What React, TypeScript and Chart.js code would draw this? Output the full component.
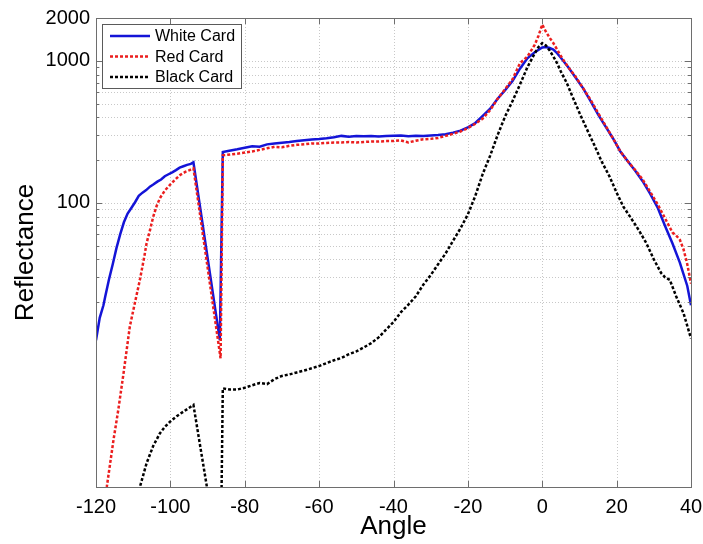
import React, { useEffect, useRef } from 'react';
import { Chart, registerables } from 'chart.js';

Chart.register(...registerables);

const FONT = '"Liberation Sans", Arial, Helvetica, sans-serif';

const xTicks = [-120, -100, -80, -60, -40, -20, 0, 20, 40];
const yLabelTicks = [100, 1000, 2000];
const yGridValues = [20, 30, 40, 50, 60, 70, 80, 90, 100, 200, 300, 400, 500, 600, 700, 800, 900, 1000, 2000];
const seriesNames = ['White Card', 'Red Card', 'Black Card'];

const whiteAngles = [-120, -119, -118, -117.5, -116.5, -115.5, -114.5, -113.5, -112.5, -111.5,
  -110.5, -109.5, -108.5, -107.5, -106.5, -105.5, -104.5, -103.5, -102.5, -101.5,
  -100.5, -99.5, -98.5, -97.5, -96.5, -95.5, -94.5, -93.8, -86.7, -85.9,
  -84.5, -82, -80, -78, -76, -74, -72, -70, -68, -66,
  -64, -62, -60, -58, -56, -54, -52, -50, -48, -46,
  -44, -42, -40, -38, -36, -34, -32, -30, -28, -26,
  -24, -22, -20, -18, -16, -14, -12, -10, -8, -6,
  -4, -2, 0, 1, 2, 3, 4, 5, 7, 9,
  11, 13, 15, 17, 19, 21, 23, 25, 27, 29,
  31, 33, 35, 37, 39, 40];
const whiteValues = [10.8, 15.5, 19, 22, 29, 37, 48, 60, 73, 84,
  92, 101, 112, 118, 123, 130, 135, 141, 146, 154,
  159, 164, 170, 177, 181, 185, 188, 193, 10.8, 228,
  232, 238, 244, 250, 248, 258, 262, 265, 268, 272,
  276, 279, 281, 285, 290, 296, 292, 295, 294, 296,
  293, 296, 297, 298, 294, 297, 296, 298, 300, 304,
  312, 322, 340, 365, 410, 460, 540, 620, 720, 880,
  1040, 1150, 1240, 1250, 1230, 1200, 1130, 1050, 900, 760,
  640, 520, 420, 345, 285, 230, 196, 168, 142, 116,
  93, 69, 52, 38, 26, 19];

const redAngles = [-120, -117.1, -115.3, -114, -112.6, -110.9, -109.5, -108.2, -107, -106.4,
  -105.5, -104.6, -103.7, -102.8, -101.5, -100.1, -98.7, -97.4, -96, -94.8,
  -93.8, -86.5, -85.9, -84.5, -82, -80, -78, -76, -74, -72,
  -70, -68, -66, -64, -62, -60, -58, -56, -54, -52,
  -50, -48, -46, -44, -42, -40, -38, -36, -34, -32,
  -30, -28, -26, -24, -22, -20, -18, -16, -14, -12,
  -10, -8, -6, -4, -2, -1, 0, 1, 2, 3, 4, 5,
  7, 9, 11, 13, 15, 17, 19, 21, 23, 25,
  27, 29, 31, 33, 35, 36, 37, 38, 39, 40];
const redValues = [0.35, 1.0, 2.14, 3.5, 6.3, 13.5, 20, 28.7, 42, 52,
  64, 80, 95, 108, 122, 134, 146, 157, 165, 170,
  175, 8.05, 216, 218, 222, 226, 230, 236, 242, 248,
  246, 252, 256, 258, 262, 262, 264, 266, 266, 268,
  266, 268, 270, 270, 272, 272, 275, 266, 274, 280,
  282, 286, 296, 306, 318, 336, 360, 392, 450, 540,
  630, 740, 960, 1070, 1300, 1500, 1800, 1600, 1450, 1330, 1200, 1080,
  900, 770, 640, 530, 430, 350, 285, 230, 196, 170,
  146, 120, 98, 78, 62, 59, 55, 47, 37, 27];

const blackAngles = [-120, -108.2, -106.4, -104.6, -102.8, -101.5, -100.1, -98.3, -96.5, -95,
  -93.8, -86.5, -85.9, -84, -82, -80, -78, -76, -74, -72,
  -70, -68, -66, -64, -62, -60, -58, -56, -54, -52,
  -50, -48, -46, -44, -42, -40, -38, -36, -34, -32,
  -30, -28, -26, -24, -22, -20, -18, -16, -14, -12,
  -10, -8, -6, -4, -2, -1, 0, 1, 2, 3,
  4, 5, 6.6, 8, 10, 12, 14, 16, 18, 20,
  21.8, 23.6, 26, 28, 30, 32, 33, 34.3, 36, 38,
  40];
const blackValues = [0.1, 1.0, 1.47, 1.95, 2.39, 2.65, 2.88, 3.15, 3.39, 3.6,
  3.78, 0.26, 4.95, 4.85, 4.85, 5.0, 5.2, 5.4, 5.3, 5.75,
  6.05, 6.2, 6.4, 6.6, 6.85, 7.1, 7.45, 7.8, 8.1, 8.6,
  9.0, 9.6, 10.3, 11.3, 12.8, 14.5, 17, 19.2, 22, 26.5,
  31, 37, 44, 54, 66, 83, 112, 160, 215, 300,
  405, 520, 680, 900, 1130, 1250, 1330, 1280, 1180, 1070,
  960, 840, 697, 570, 430, 330, 255, 195, 155, 118,
  94, 80, 64, 52, 40, 32, 30, 28.7, 22, 16.7,
  11.1];

const BLUE = 'rgb(20,20,215)';
const RED = 'rgb(235,30,30)';
const BLACK = 'rgb(0,0,0)';
const colors = [BLUE, RED, BLACK];
const dashes: number[][] = [[], [3, 2], [3, 2]];

const toPoints = (xs: number[], ys: number[]) => xs.map((a, i) => ({ x: a, y: ys[i] }));

const matlabPlugin = {
  id: 'matlabStyle',
  beforeDatasetsDraw(chart: any) {
    const { ctx, chartArea, scales } = chart;
    const { left, right, top, bottom } = chartArea;
    const x = scales.x, y = scales.y;
    ctx.save();
    ctx.strokeStyle = 'rgb(200,200,200)';
    ctx.lineWidth = 1;
    ctx.setLineDash([1, 2]);
    for (const v of xTicks) {
      const px = Math.round(x.getPixelForValue(v)) + 0.5;
      if (px <= left + 1 || px >= right - 1) continue;
      ctx.beginPath();
      ctx.moveTo(px, top);
      ctx.lineTo(px, bottom);
      ctx.stroke();
    }
    for (const v of yGridValues) {
      const py = Math.round(y.getPixelForValue(v)) + 0.5;
      if (py <= top + 1 || py >= bottom - 1) continue;
      ctx.beginPath();
      ctx.moveTo(left, py);
      ctx.lineTo(right, py);
      ctx.stroke();
    }
    ctx.restore();
  },
  afterDraw(chart: any) {
    const { ctx, chartArea, scales } = chart;
    const { left, right, top, bottom } = chartArea;
    const x = scales.x, y = scales.y;
    ctx.save();
    ctx.setLineDash([]);
    ctx.strokeStyle = 'rgb(110,110,110)';
    ctx.lineWidth = 1;
    ctx.beginPath();
    for (const v of xTicks) {
      const px = Math.round(x.getPixelForValue(v)) + 0.5;
      ctx.moveTo(px, bottom);
      ctx.lineTo(px, bottom - 6);
      ctx.moveTo(px, top);
      ctx.lineTo(px, top + 6);
    }
    for (const v of yGridValues) {
      const py = Math.round(y.getPixelForValue(v)) + 0.5;
      const len = yLabelTicks.includes(v) ? 6 : 3;
      ctx.moveTo(left, py);
      ctx.lineTo(left + len, py);
      ctx.moveTo(right, py);
      ctx.lineTo(right - len, py);
    }
    ctx.stroke();
    ctx.strokeRect(Math.round(left) + 0.5, Math.round(top) + 0.5, Math.round(right - left), Math.round(bottom - top));

    // legend
    const lx = 102, ly = 24, lw = 139, lh = 64;
    ctx.fillStyle = '#ffffff';
    ctx.fillRect(lx, ly, lw, lh);
    ctx.strokeStyle = 'rgb(90,90,90)';
    ctx.strokeRect(lx + 0.5, ly + 0.5, lw, lh);
    ctx.font = `16px ${FONT}`;
    ctx.textBaseline = 'middle';
    ctx.textAlign = 'left';
    seriesNames.forEach((name, i) => {
      const yy = ly + 12 + i * 20.5;
      ctx.strokeStyle = colors[i];
      ctx.lineWidth = 2.5;
      ctx.setLineDash(dashes[i]);
      ctx.beginPath();
      ctx.moveTo(lx + 8, yy);
      ctx.lineTo(lx + 48, yy);
      ctx.stroke();
      ctx.setLineDash([]);
      ctx.fillStyle = '#000';
      ctx.fillText(name, lx + 53, yy + 1);
    });
    ctx.restore();
  },
};

export default function App() {
  const ref = useRef<HTMLCanvasElement>(null);
  useEffect(() => {
    if (!ref.current) return;
    const chart = new Chart(ref.current, {
      type: 'line',
      data: {
        datasets: [
          { label: seriesNames[0], data: toPoints(whiteAngles, whiteValues), borderColor: BLUE, borderWidth: 2.5, pointRadius: 0, tension: 0, order: 2, clip: 0 } as any,
          { label: seriesNames[1], data: toPoints(redAngles, redValues), borderColor: RED, borderWidth: 2.5, borderDash: [3, 2], pointRadius: 0, tension: 0, order: 1, clip: 0 } as any,
          { label: seriesNames[2], data: toPoints(blackAngles, blackValues), borderColor: BLACK, borderWidth: 2.5, borderDash: [3, 2], pointRadius: 0, tension: 0, order: 0, clip: 0 } as any,
        ],
      },
      options: {
        animation: false,
        responsive: false,
        devicePixelRatio: 1,
        layout: { padding: { left: 0, right: 12, top: 18, bottom: 0 } },
        plugins: { legend: { display: false }, tooltip: { enabled: false } },
        scales: {
          x: {
            type: 'linear',
            min: -120,
            max: 40,
            grid: { display: false, drawTicks: false },
            border: { display: false },
            ticks: {
              stepSize: 20,
              color: '#000',
              font: { family: FONT, size: 20 },
              padding: 8,
              maxRotation: 0,
              callback: (v: any) => String(v),
            },
            title: { display: true, text: 'Angle', color: '#000', font: { family: FONT, size: 26 }, padding: { top: 0, bottom: 2 } },
            afterFit: (s: any) => { s.height = 57; s.paddingLeft = 0; s.paddingRight = 0; },
          },
          y: {
            type: 'logarithmic',
            min: 1,
            max: 2000,
            grid: { display: false, drawTicks: false },
            border: { display: false },
            afterBuildTicks: (s: any) => { s.ticks = yGridValues.map((v) => ({ value: v })); },
            ticks: {
              autoSkip: false,
              color: '#000',
              font: { family: FONT, size: 20 },
              padding: 6,
              callback: (v: any) => (yLabelTicks.includes(Number(v)) ? String(v) : ''),
            },
            title: { display: true, text: 'Reflectance', color: '#000', font: { family: FONT, size: 26 }, padding: { top: 10, bottom: 0 } },
            afterFit: (s: any) => { s.width = 96; s.paddingTop = 0; s.paddingBottom = 0; },
          },
        },
      } as any,
      plugins: [matlabPlugin],
    });
    return () => chart.destroy();
  }, []);
  return (
    <div style={{ position: 'absolute', left: 0, top: 0, width: 703, height: 544, background: '#fff' }}>
      <canvas ref={ref} width={703} height={544} style={{ display: 'block', width: 703, height: 544 }} />
    </div>
  );
}
